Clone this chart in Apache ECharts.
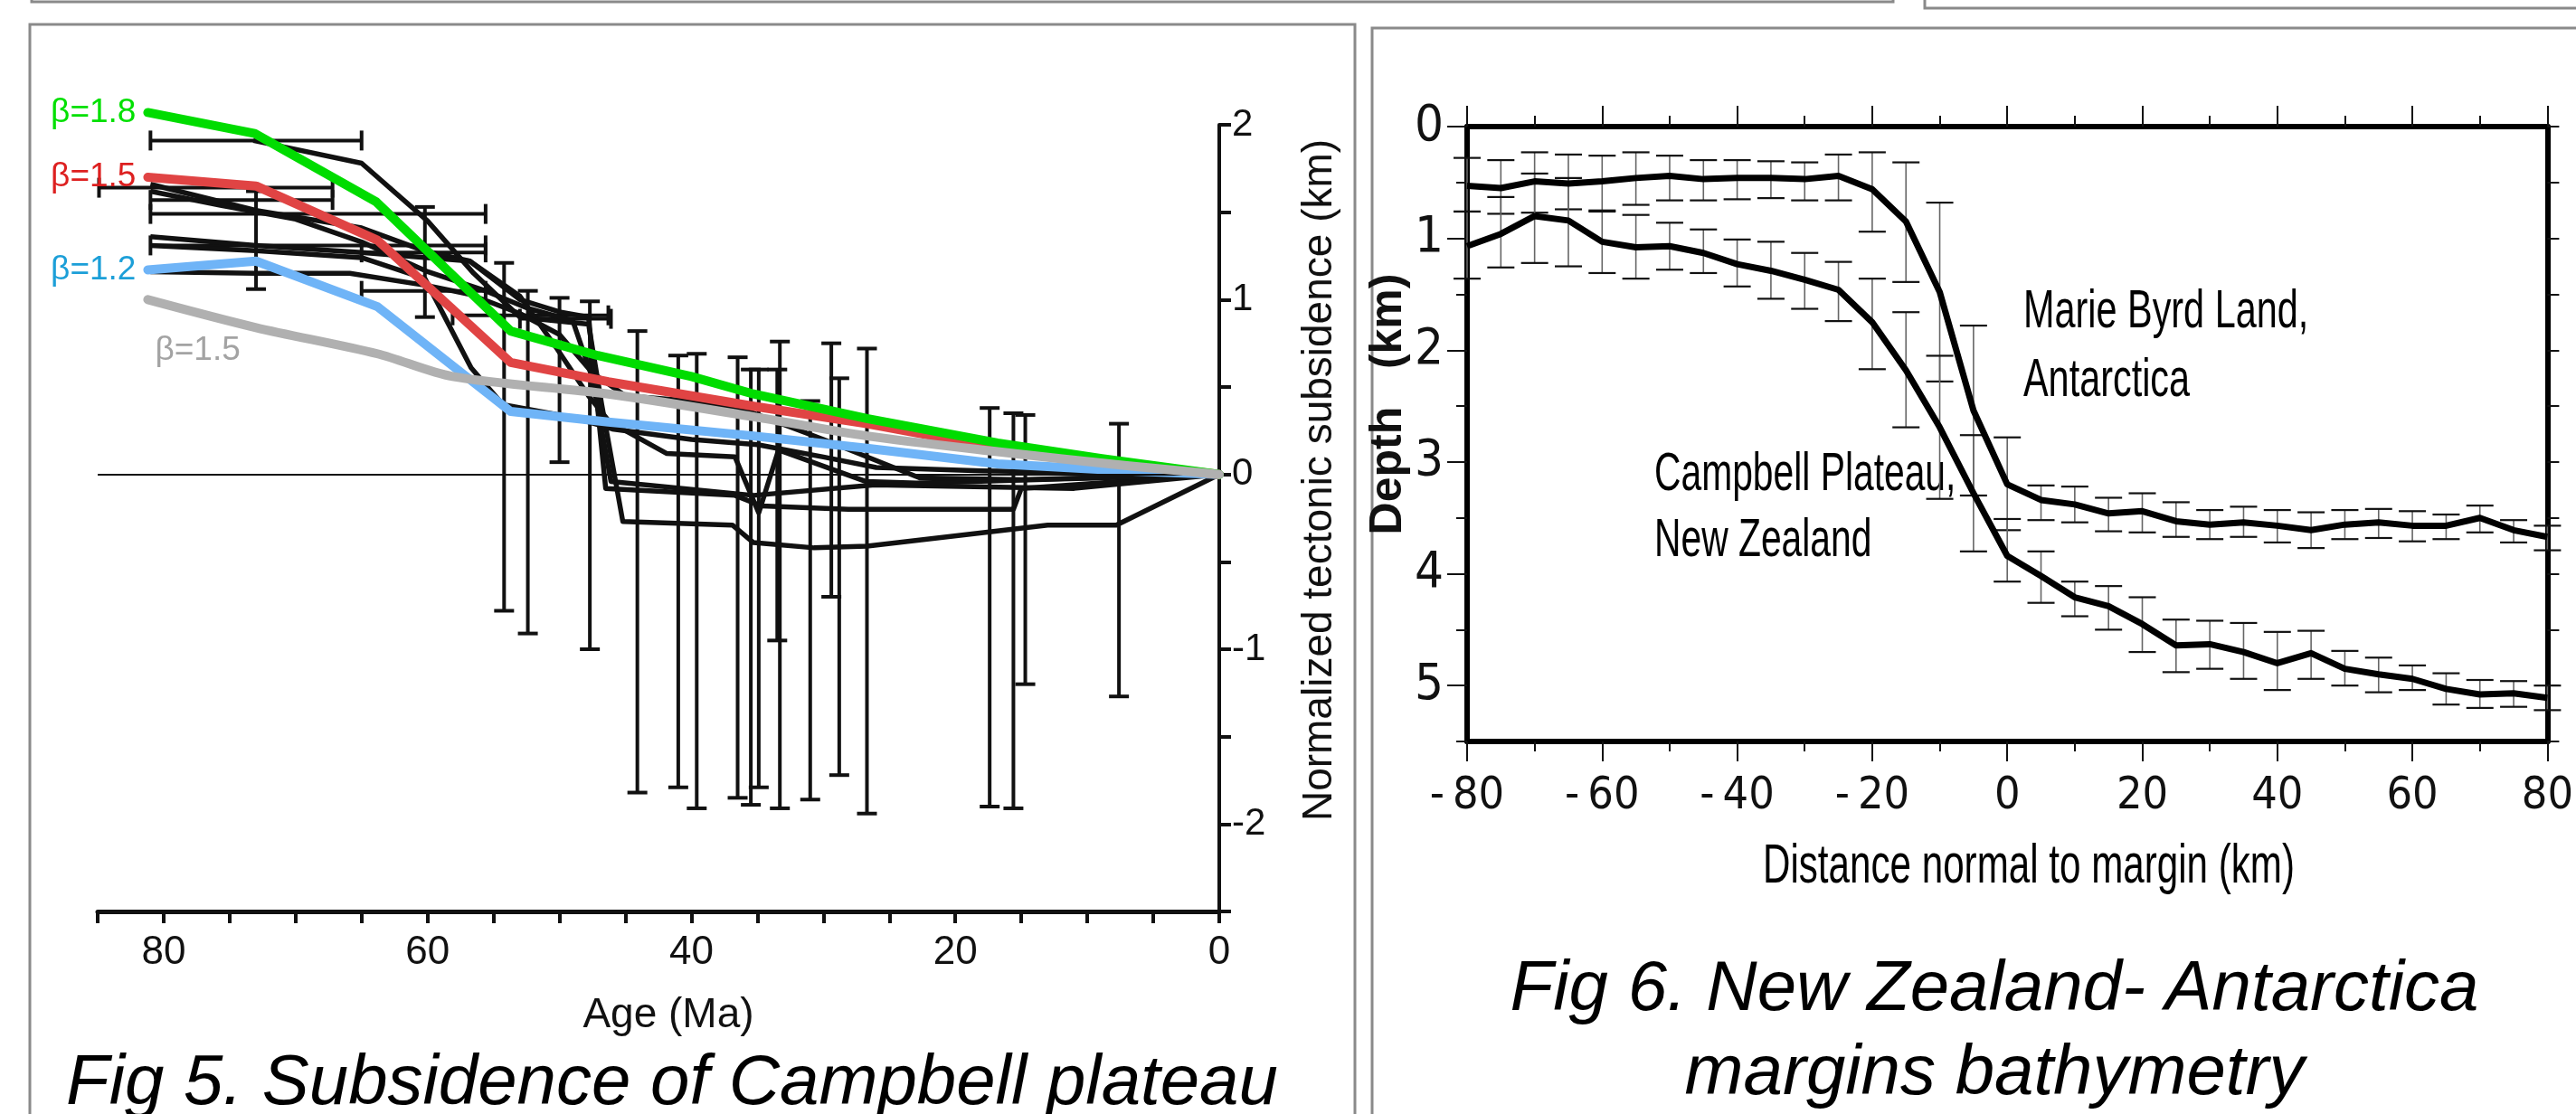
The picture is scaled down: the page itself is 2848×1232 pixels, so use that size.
<!DOCTYPE html>
<html><head><meta charset="utf-8">
<script src="https://cdn.jsdelivr.net/npm/echarts@6/dist/echarts.min.js"></script>
<style>html,body{margin:0;padding:0;background:#fff;}#c{width:2848px;height:1232px;}</style>
</head><body><div id="c"></div>
<script>
// ================= Fig 5 data (Age Ma, normalized tectonic subsidence km) =================
const beta18 = [[81.2,2.07],[73.1,1.95],[63.9,1.56],[53.7,0.82],[47.1,0.68],[40,0.56],[35.3,0.46],[26.7,0.32],[16.8,0.18],[8.9,0.09],[0,0]];
const beta15 = [[81.2,1.70],[73,1.65],[63.8,1.34],[53.7,0.64],[46.3,0.53],[35.3,0.39],[26.7,0.29],[18.8,0.18],[9,0.08],[0,0]];
const beta12 = [[81.2,1.17],[73,1.22],[63.8,0.96],[53.7,0.36],[46.3,0.30],[35.3,0.22],[26.7,0.15],[16.8,0.06],[7,0.02],[0,0]];
const beta15gray = [[81.2,1.00],[73,0.84],[63.8,0.69],[58.1,0.56],[46.3,0.46],[35.3,0.33],[26.7,0.22],[16.8,0.13],[7,0.05],[0,0]];

const well1 = [[73.2,1.91],[65,1.78],[60,1.45],[56.5,1.15],[53,0.90],[47.8,0.86],[46.8,0.40],[45.2,-0.27],[36.9,-0.29],[35.3,-0.39],[30.7,-0.42],[26.7,-0.41],[13,-0.29],[7.8,-0.29],[0,0]];
const well2 = [[81,1.66],[73,1.51],[65,1.41],[60.3,1.28],[56.8,1.22],[53,1.0],[50,0.93],[47.8,0.90],[46.5,-0.08],[36.7,-0.12],[34.7,-0.18],[28.1,-0.20],[15.6,-0.20],[15,-0.08],[0,0]];
const well3 = [[81,1.62],[75.7,1.54],[70,1.46],[65,1.33],[60,1.16],[55.6,1.05],[52.4,0.95],[49,0.88],[47.5,0.55],[46.1,-0.04],[35.3,-0.12],[26.1,-0.06],[11,-0.08],[0,0]];
const well4 = [[81,1.36],[73,1.31],[65,1.27],[56.8,1.22],[53,1.02],[50.2,0.72],[47.8,0.45],[46.2,0.30],[41.9,0.12],[36.7,0.10],[34.9,-0.22],[33.4,0.14],[26.8,-0.04],[22.9,-0.05],[0,0]];
const well5 = [[81,1.31],[73,1.28],[65,1.24],[60.2,1.12],[56.7,0.61],[54.3,0.40],[50,0.34],[47.8,0.30],[46,0.26],[40,0.20],[35,0.17],[30,0.10],[26,0.04],[18,0.02],[0,0]];
const well6 = [[81,1.16],[73,1.15],[65.9,1.15],[60,1.08],[56.8,1.03],[53,0.92],[50,0.80],[47.5,0.58],[45,0.45],[40,0.42],[36,0.37],[30,0.20],[22.7,-0.02],[15,-0.03],[0,0]];
const wells = [well1, well2, well3, well4, well5, well6];

// vertical error bars: [age, low, high]
const ageErrV = [[73,1.06,1.62],[60.2,0.90,1.53],[54.2,-0.78,1.21],[52.4,-0.91,1.05],[50.0,0.07,1.01],[47.7,-1.0,0.99],[44.1,-1.82,0.82],[41.0,-1.79,0.68],[39.6,-1.91,0.69],[36.5,-1.85,0.67],[35.5,-1.89,0.60],[34.9,-1.79,0.60],[33.5,-0.95,0.60],[33.3,-1.91,0.76],[31.0,-1.86,0.42],[29.4,-0.70,0.75],[28.8,-1.72,0.55],[26.7,-1.94,0.72],[17.4,-1.90,0.38],[15.6,-1.91,0.35],[14.7,-1.20,0.34],[7.6,-1.27,0.29]];
// horizontal error bars: [value, older age, younger age]
const ageErrH = [[1.91,81,65],[1.64,84.9,67.2],[1.57,81,67.2],[1.49,81,55.6],[1.31,81,55.6],[1.27,65,55.6],[1.05,65,55.6],[0.89,53,46.1],[0.91,58.1,46.3]];

const ageTickLabels = [0,20,40,60,80];
const subsTickLabels = [-2,-1,0,1,2];

// ================= Fig 6 data (distance km, depth km) =================
const distKm = [-80,-75,-70,-65,-60,-55,-50,-45,-40,-35,-30,-25,-20,-15,-10,-5,0,5,10,15,20,25,30,35,40,45,50,55,60,65,70,75,80];
const depthMBL = [0.53,0.55,0.49,0.51,0.49,0.46,0.44,0.47,0.46,0.46,0.47,0.44,0.56,0.85,1.48,2.54,3.20,3.34,3.38,3.46,3.44,3.53,3.56,3.54,3.57,3.61,3.56,3.54,3.57,3.57,3.50,3.61,3.67];
const mblTop = [0.28,0.30,0.23,0.25,0.26,0.23,0.26,0.30,0.30,0.31,0.32,0.25,0.23,0.32,0.68,1.78,2.78,3.21,3.22,3.32,3.28,3.36,3.43,3.40,3.43,3.45,3.43,3.42,3.44,3.47,3.39,3.52,3.57];
const mblBottom = [0.76,0.78,0.77,0.74,0.75,0.70,0.66,0.66,0.65,0.64,0.66,0.66,0.94,1.39,2.28,3.30,3.61,3.52,3.54,3.62,3.63,3.67,3.69,3.67,3.72,3.77,3.69,3.68,3.71,3.69,3.63,3.72,3.79];
const depthCP = [1.07,0.96,0.80,0.84,1.03,1.08,1.07,1.13,1.23,1.29,1.37,1.46,1.75,2.18,2.69,3.28,3.84,4.02,4.21,4.29,4.45,4.64,4.63,4.70,4.80,4.71,4.85,4.90,4.94,5.03,5.08,5.07,5.11];
const cpTop = [0.76,0.63,0.42,0.46,0.76,0.79,0.86,0.92,1.01,1.03,1.13,1.21,1.36,1.66,2.05,2.76,3.51,3.80,4.07,4.11,4.21,4.41,4.42,4.44,4.52,4.51,4.69,4.75,4.82,4.89,4.95,4.96,5.00];
const cpBottom = [1.36,1.26,1.22,1.25,1.31,1.36,1.28,1.31,1.43,1.54,1.63,1.74,2.17,2.69,3.33,3.80,4.07,4.26,4.38,4.50,4.70,4.88,4.85,4.94,5.04,4.94,5.00,5.06,5.04,5.17,5.20,5.19,5.22];
const distTickLabels = [-80,-60,-40,-20,0,20,40,60,80];
const depthTickLabels = [0,1,2,3,4,5];

// ================= styles =================
const FONT = "'Liberation Sans', Arial, Helvetica, sans-serif";
const NARROW = "'Liberation Sans Narrow', 'Arial Narrow', 'DejaVu Sans Condensed', 'Liberation Sans', sans-serif";
const INK = '#111';

function vErr(stemColor, stemW, capColor, capW, capLen) {
  return function (params, api) {
    const x = api.value(0), lo = api.value(1), hi = api.value(2);
    const a = api.coord([x, lo]), b = api.coord([x, hi]), h = capLen / 2;
    return { type: 'group', children: [
      { type: 'line', shape: { x1: a[0], y1: a[1], x2: b[0], y2: b[1] }, style: { stroke: stemColor, lineWidth: stemW } },
      { type: 'line', shape: { x1: a[0] - h, y1: a[1], x2: a[0] + h, y2: a[1] }, style: { stroke: capColor, lineWidth: capW } },
      { type: 'line', shape: { x1: b[0] - h, y1: b[1], x2: b[0] + h, y2: b[1] }, style: { stroke: capColor, lineWidth: capW } }
    ]};
  };
}
function hErr(params, api) {
  const v = api.value(0), a0 = api.value(1), a1 = api.value(2);
  const a = api.coord([a0, v]), b = api.coord([a1, v]), h = 11;
  const st = { stroke: INK, lineWidth: 4 };
  return { type: 'group', children: [
    { type: 'line', shape: { x1: a[0], y1: a[1], x2: b[0], y2: b[1] }, style: st },
    { type: 'line', shape: { x1: a[0], y1: a[1] - h, x2: a[0], y2: a[1] + h }, style: st },
    { type: 'line', shape: { x1: b[0], y1: b[1] - h, x2: b[0], y2: b[1] + h }, style: st }
  ]};
}

function betaSeries(data, color, labelText, labelColor, labelPos, z, smooth) {
  return {
    type: 'line', xAxisIndex: 0, yAxisIndex: 0, z: z, clip: false, smooth: smooth || false,
    symbol: 'circle', symbolSize: 0, showSymbol: true, silent: true,
    lineStyle: { color: color, width: 10, cap: 'round', join: 'round' },
    itemStyle: { color: color },
    data: data.map((p, i) => i === 0 ? {
      value: p,
      label: Object.assign({ show: true, formatter: labelText, color: labelColor, fontSize: 37, fontFamily: FONT }, labelPos)
    } : p)
  };
}

const series = [];
wells.forEach((w, i) => {
  const s = {
    type: 'line', xAxisIndex: 0, yAxisIndex: 0, z: 3, clip: false, symbol: 'none', silent: true,
    lineStyle: { color: INK, width: 5.5, join: 'round' }, data: w
  };
  if (i === 0) s.markLine = { silent: true, symbol: ['none', 'none'], label: { show: false },
    lineStyle: { color: INK, width: 2, type: 'solid' }, data: [{ yAxis: 0 }] };
  series.push(s);
});
series.push({ type: 'custom', xAxisIndex: 0, yAxisIndex: 0, z: 2, silent: true,
  renderItem: vErr(INK, 4, INK, 4, 22), data: ageErrV });
series.push({ type: 'custom', xAxisIndex: 0, yAxisIndex: 0, z: 2, silent: true,
  renderItem: hErr, data: ageErrH });
series.push(betaSeries(beta12, '#6fb4f7', 'β=1.2', '#1c9fd8', { position: 'left', distance: 13 }, 4));
series.push(betaSeries(beta15, '#e04444', 'β=1.5', '#dd2020', { position: 'left', distance: 13 }, 5));
series.push(betaSeries(beta18, '#00dc00', 'β=1.8', '#00e000', { position: 'left', distance: 13 }, 6));
series.push(betaSeries(beta15gray, '#b0b0b0', 'β=1.5', '#a3a3a3', { position: [8, 38] }, 7, 0.3));

// Fig 6 series
series.push({ type: 'custom', xAxisIndex: 1, yAxisIndex: 1, z: 2, silent: true,
  renderItem: vErr('#666', 1.6, INK, 2.2, 30), data: distKm.map((d, i) => [d, mblTop[i], mblBottom[i]]) });
series.push({ type: 'custom', xAxisIndex: 1, yAxisIndex: 1, z: 2, silent: true,
  renderItem: vErr('#666', 1.6, INK, 2.2, 30), data: distKm.map((d, i) => [d, cpTop[i], cpBottom[i]]) });
series.push({ type: 'line', name: 'Marie Byrd Land', xAxisIndex: 1, yAxisIndex: 1, z: 3, symbol: 'none', silent: true,
  lineStyle: { color: '#000', width: 7, join: 'round' }, data: distKm.map((d, i) => [d, depthMBL[i]]) });
series.push({ type: 'line', name: 'Campbell Plateau', xAxisIndex: 1, yAxisIndex: 1, z: 3, symbol: 'none', silent: true,
  lineStyle: { color: '#000', width: 7, join: 'round' }, data: distKm.map((d, i) => [d, depthCP[i]]) });

const option = {
  animation: false,
  backgroundColor: '#fff',
  grid: [
    { left: 108, top: 138, width: 1240, height: 870 },
    { left: 1622, top: 140, width: 1205, height: 680 }
  ],
  xAxis: [
    { gridIndex: 0, type: 'value', min: 0, max: 85, interval: 5, inverse: true,
      axisLine: { onZero: false, lineStyle: { color: INK, width: 5 } },
      axisTick: { length: 13, lineStyle: { color: INK, width: 4 } },
      axisLabel: { margin: 24, fontSize: 44, fontFamily: FONT, color: INK,
        formatter: v => ageTickLabels.includes(v) ? String(v) : '' },
      splitLine: { show: false },
      name: 'Age (Ma)', nameLocation: 'middle', nameGap: 92,
      nameTextStyle: { fontSize: 46, fontFamily: FONT, color: INK, padding: [0, 0, 0, 22] } },
    { gridIndex: 1, type: 'value', min: -80, max: 80, interval: 20, position: 'bottom',
      axisLine: { onZero: false, lineStyle: { color: '#000', width: 6 } },
      axisTick: { length: 22, lineStyle: { color: INK, width: 2 } },
      minorTick: { show: true, splitNumber: 2, length: 11, lineStyle: { color: INK, width: 2 } },
      axisLabel: { margin: 36, fontSize: 50, fontFamily: NARROW, color: INK,
        formatter: v => distTickLabels.includes(v) ? (v < 0 ? '-\u2009' + (-v) : String(v)) : '' },
      splitLine: { show: false }, minorSplitLine: { show: false } },
    { gridIndex: 1, type: 'value', min: -80, max: 80, interval: 20, position: 'top',
      axisLine: { onZero: false, lineStyle: { color: '#000', width: 6 } },
      axisTick: { length: 23, lineStyle: { color: INK, width: 2 } },
      minorTick: { show: true, splitNumber: 2, length: 12, lineStyle: { color: INK, width: 2 } },
      axisLabel: { show: false }, splitLine: { show: false }, minorSplitLine: { show: false } }
  ],
  yAxis: [
    { gridIndex: 0, type: 'value', position: 'right', min: -2.5, max: 2, interval: 0.5,
      axisLine: { show: true, onZero: false, lineStyle: { color: INK, width: 4 } },
      axisTick: { show: true, length: 13, lineStyle: { color: INK, width: 4 } },
      axisLabel: { margin: 14, fontSize: 42, fontFamily: FONT, color: INK,
        formatter: v => subsTickLabels.includes(v) ? String(v) : '' },
      splitLine: { show: false },
      name: 'Normalized tectonic subsidence (km)', nameLocation: 'middle', nameRotate: 90, nameGap: 88,
      nameTextStyle: { fontSize: 46, fontFamily: FONT, color: INK, padding: [0, 0, 0, 84] } },
    { gridIndex: 1, type: 'value', position: 'left', min: 0, max: 5.5, interval: 0.5, inverse: true,
      axisLine: { show: true, onZero: false, lineStyle: { color: '#000', width: 6 } },
      axisTick: { show: true, length: 12, lineStyle: { color: INK, width: 2 } },
      axisLabel: { margin: 26, fontSize: 56, fontFamily: NARROW, color: INK,
        formatter: v => depthTickLabels.includes(v) ? String(v) : '' },
      splitLine: { show: false },
      name: 'Depth   (km)', nameLocation: 'middle', nameRotate: 90, nameGap: 50,
      nameTextStyle: { fontSize: 50, fontWeight: 'bold', fontFamily: FONT, color: INK, padding: [0, 0, 0, 66] } },
    { gridIndex: 1, type: 'value', position: 'left', min: 0, max: 5.5, interval: 1, inverse: true,
      axisLine: { show: false, onZero: false },
      axisTick: { show: true, length: 22, customValues: depthTickLabels, lineStyle: { color: INK, width: 2 } },
      axisLabel: { show: false }, splitLine: { show: false } },
    { gridIndex: 1, type: 'value', position: 'right', min: 0, max: 5.5, interval: 0.5, inverse: true,
      axisLine: { show: true, onZero: false, lineStyle: { color: '#000', width: 6 } },
      axisTick: { show: true, length: 13, lineStyle: { color: INK, width: 2 } },
      axisLabel: { show: false }, splitLine: { show: false } }
  ],
  graphic: [
    { type: 'polyline', silent: true, shape: { points: [[35, 0], [35, 2], [2093, 2], [2093, 0]] }, style: { stroke: '#8a8a8a', lineWidth: 3, fill: null } },
    { type: 'polyline', silent: true, shape: { points: [[2128, 0], [2128, 9], [2860, 9]] }, style: { stroke: '#8a8a8a', lineWidth: 3, fill: null } },
    { type: 'rect', silent: true, shape: { x: 33, y: 27, width: 1465, height: 1300 }, style: { stroke: '#8a8a8a', lineWidth: 3, fill: null } },
    { type: 'rect', silent: true, shape: { x: 1517, y: 31, width: 1400, height: 1300 }, style: { stroke: '#8a8a8a', lineWidth: 3, fill: null } },
    { type: 'text', silent: true, x: 2243, y: 959, scaleX: 0.68, style: { text: 'Distance normal to margin (km)', fontSize: 62, fontFamily: FONT, fill: '#000', align: 'center', verticalAlign: 'middle' } },
    { type: 'text', silent: true, x: 73, y: 1199, style: { text: 'Fig 5. Subsidence of Campbell plateau', fontSize: 78, fontStyle: 'italic', fontFamily: FONT, fill: '#000', align: 'left', verticalAlign: 'middle' } },
    { type: 'text', silent: true, x: 2205, y: 1049, style: { text: 'Fig 6. New Zealand- Antarctica\nmargins bathymetry', fontSize: 78, lineHeight: 93, fontStyle: 'italic', fontFamily: FONT, fill: '#000', align: 'center', verticalAlign: 'top' } },
    { type: 'text', silent: true, x: 2237, y: 307, scaleX: 0.69, style: { text: 'Marie Byrd Land,\nAntarctica', fontSize: 60, lineHeight: 76, fontFamily: FONT, fill: '#000', align: 'left', verticalAlign: 'top' } },
    { type: 'text', silent: true, x: 1829, y: 489, scaleX: 0.68, style: { text: 'Campbell Plateau,\nNew Zealand', fontSize: 60, lineHeight: 73, fontFamily: FONT, fill: '#000', align: 'left', verticalAlign: 'top' } }
  ],
  series: series
};

const chart = echarts.init(document.getElementById('c'), null, { renderer: 'canvas', width: 2848, height: 1232 });
chart.setOption(option);
</script>
</body></html>
